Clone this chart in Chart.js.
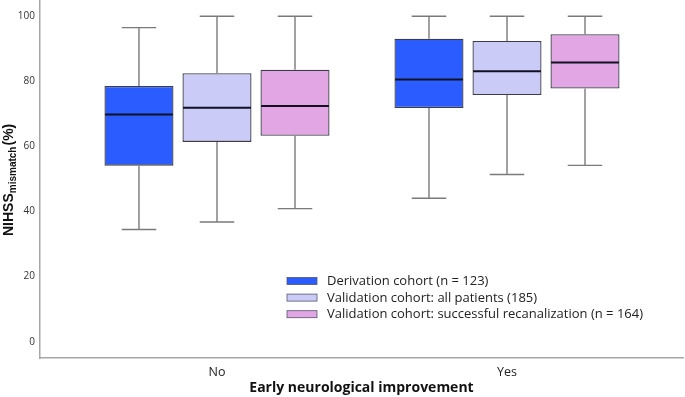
<!DOCTYPE html>
<html>
<head>
<meta charset="utf-8">
<script src="https://cdn.jsdelivr.net/npm/chart.js@4.4.1/dist/chart.umd.min.js"></script>
<style>
  html, body { margin: 0; padding: 0; background: #ffffff; }
  #wrap { width: 685px; height: 397px; }
</style>
</head>
<body>
<div id="wrap"><canvas id="c" width="685" height="397"></canvas></div>
<script>
// ---- data ----
const categories = ['No', 'Yes'];
const seriesLabels = [
  'Derivation cohort (n = 123)',
  'Validation cohort: all patients (185)',
  'Validation cohort: successful recanalization (n = 164)'
];
const yTicks = [0, 20, 40, 60, 80, 100];

// five-number summaries per category [No, Yes]
const derivMin = [34.5, 44.1];
const derivQ1  = [54.1, 71.8];
const derivMed = [69.8, 80.6];
const derivQ3  = [78.6, 93.1];
const derivMax = [96.5, 100];

const valAllMin = [36.8, 51.4];
const valAllQ1  = [61.4, 75.8];
const valAllMed = [71.9, 83.1];
const valAllQ3  = [82.5, 92.4];
const valAllMax = [100, 100];

const valRecMin = [40.9, 54.2];
const valRecQ1  = [63.3, 77.8];
const valRecMed = [72.4, 85.8];
const valRecQ3  = [83.6, 94.5];
const valRecMax = [100, 100];

const colors = ['#2b5cff', '#cbcbf8', '#e2a6e5'];

const series = [
  { min: derivMin, q1: derivQ1, med: derivMed, q3: derivQ3, max: derivMax },
  { min: valAllMin, q1: valAllQ1, med: valAllMed, q3: valAllQ3, max: valAllMax },
  { min: valRecMin, q1: valRecQ1, med: valRecMed, q3: valRecQ3, max: valRecMax }
];

const datasets = series.map((s, i) => ({
  label: seriesLabels[i],
  data: categories.map((c, j) => ({ x: j, y: [s.q1[j], s.q3[j]] })),
  stats: s,
  backgroundColor: colors[i],
  borderColor: '#3c3c4a',
  borderWidth: 1.3,
  borderSkipped: false,
  barPercentage: 0.885,
  categoryPercentage: 0.807
}));

const boxPlugin = {
  id: 'boxWhiskers',
  afterDatasetsDraw(chart) {
    const ctx = chart.ctx;
    const y = chart.scales.y;
    chart.data.datasets.forEach((ds, di) => {
      const meta = chart.getDatasetMeta(di);
      meta.data.forEach((el, j) => {
        const s = ds.stats;
        const x = el.x;
        const w = el.width;
        const yMin = y.getPixelForValue(s.min[j]);
        const yQ1 = y.getPixelForValue(s.q1[j]);
        const yQ3 = y.getPixelForValue(s.q3[j]);
        const yMax = y.getPixelForValue(s.max[j]);
        const yMed = y.getPixelForValue(s.med[j]);
        ctx.save();
        ctx.strokeStyle = '#7a7a7a';
        ctx.lineWidth = 1.4;
        ctx.beginPath();
        ctx.moveTo(x, yQ3); ctx.lineTo(x, yMax);
        ctx.moveTo(x, yQ1); ctx.lineTo(x, yMin);
        const cw = w * 0.5;
        ctx.moveTo(x - cw / 2, yMax); ctx.lineTo(x + cw / 2, yMax);
        ctx.moveTo(x - cw / 2, yMin); ctx.lineTo(x + cw / 2, yMin);
        ctx.stroke();
        ctx.strokeStyle = '#111122';
        ctx.lineWidth = 2;
        ctx.beginPath();
        ctx.moveTo(x - w / 2 + 0.6, yMed); ctx.lineTo(x + w / 2 - 0.6, yMed);
        ctx.stroke();
        ctx.restore();
      });
    });
  },
  afterDraw(chart) {
    const ctx = chart.ctx;
    // legend
    ctx.save();
    const lx = 287, ly0 = 281, step = 16.6;
    chart.data.datasets.forEach((ds, i) => {
      const cy = ly0 + i * step;
      ctx.fillStyle = ds.backgroundColor;
      ctx.fillRect(lx, cy - 3.5, 30, 7);
      ctx.strokeStyle = '#55556a';
      ctx.lineWidth = 0.8;
      ctx.strokeRect(lx, cy - 3.5, 30, 7);
      ctx.fillStyle = '#222222';
      ctx.font = '13px "Open Sans", "Liberation Sans", sans-serif';
      ctx.textBaseline = 'middle';
      ctx.textAlign = 'left';
      ctx.fillText(ds.label, lx + 40, cy + 0.5);
    });
    ctx.restore();
    // y-axis title with subscript
    ctx.save();
    ctx.translate(12.5, 236);
    ctx.rotate(-Math.PI / 2);
    ctx.fillStyle = '#111111';
    ctx.textBaseline = 'alphabetic';
    ctx.textAlign = 'left';
    ctx.font = 'bold 14px "Liberation Sans", Arial, sans-serif';
    ctx.fillText('NIHSS', 0, 0);
    let off = ctx.measureText('NIHSS').width;
    ctx.font = 'bold 10px "Liberation Sans", Arial, sans-serif';
    ctx.fillText('mismatch', off, 3);
    off += ctx.measureText('mismatch').width + 1;
    ctx.font = 'bold 14px "Liberation Sans", Arial, sans-serif';
    ctx.fillText('(%)', off, 0);
    ctx.restore();
  }
};

new Chart(document.getElementById('c'), {
  type: 'bar',
  data: { datasets },
  plugins: [boxPlugin],
  options: {
    responsive: false,
    animation: false,
    parsing: true,
    layout: { padding: { left: 0, right: 2, top: 0, bottom: 0 } },
    plugins: { legend: { display: false }, tooltip: { enabled: false } },
    scales: {
      x: {
        type: 'linear',
        min: -0.6103,
        max: 1.6069,
        offset: false,
        grid: { display: false, drawTicks: false },
        border: { display: true, color: '#a6a6a6', width: 1.5 },
        afterBuildTicks(scale) { scale.ticks = categories.map((c, i) => ({ value: i })); },
        afterFit(scale) { scale.height = 39; scale.paddingLeft = 0; scale.paddingRight = 0; },
        ticks: {
          padding: 7,
          color: '#222222',
          font: { family: '"Open Sans", "Liberation Sans", sans-serif', size: 12.5 },
          callback: (v) => categories[v] ?? ''
        },
        title: {
          display: true,
          text: 'Early neurological improvement',
          color: '#111111',
          font: { family: '"Open Sans", "Liberation Sans", sans-serif', size: 14, weight: 'bold' },
          padding: { top: 0, bottom: 1 }
        }
      },
      y: {
        min: -5,
        max: 105,
        grid: { display: false, drawTicks: false },
        border: { display: true, color: '#a6a6a6', width: 1.5 },
        afterBuildTicks(scale) { scale.ticks = yTicks.map(v => ({ value: v })); },
        afterFit(scale) { scale.width = 40; scale.paddingTop = 0; scale.paddingBottom = 0; },
        ticks: {
          padding: 5,
          color: '#333333',
          font: { family: '"Open Sans", "Liberation Sans", sans-serif', size: 10 }
        }
      }
    }
  }
});
</script>
</body>
</html>
